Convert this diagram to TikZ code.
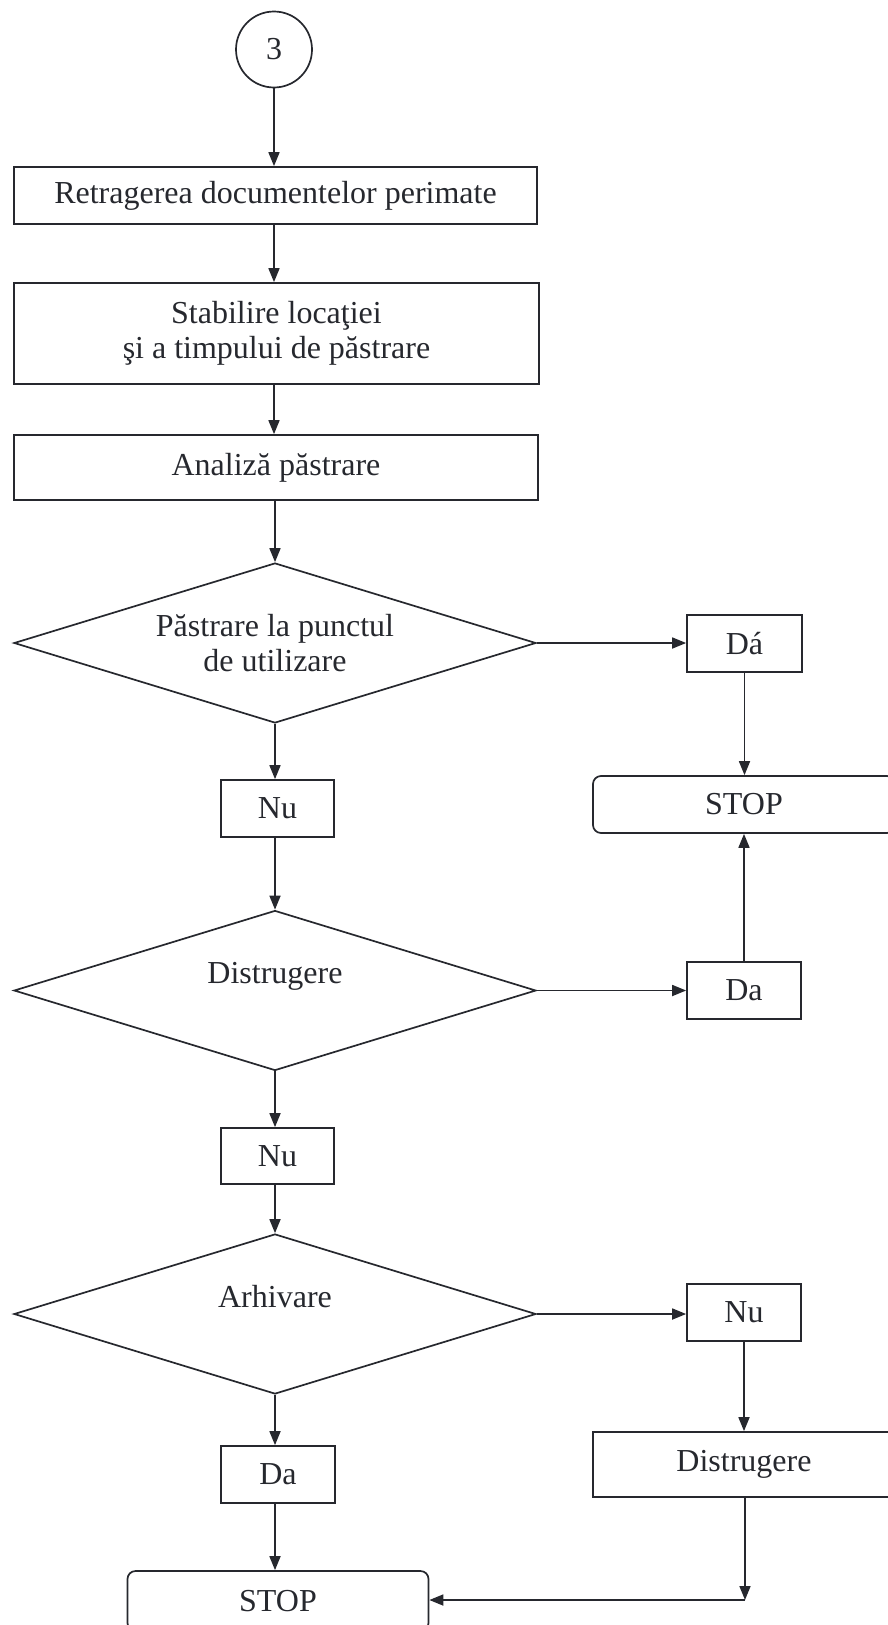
\documentclass[tikz,border=0pt]{standalone}
\usepackage{fontspec}
\setmainfont{Liberation Serif}
\usetikzlibrary{shapes.geometric,arrows.meta}
\definecolor{ink}{RGB}{38,40,46}
\begin{document}
\begin{tikzpicture}[x=1pt,y=-1pt,
  every node/.style={font=\fontsize{32}{35}\selectfont, text=ink},
  box/.style={draw=ink, line width=1.7pt, rectangle, inner sep=0pt, align=center},
  stopbox/.style={box, rounded corners=8pt},
  decision/.style={draw=ink, line width=1.7pt, diamond, aspect=3.26, inner sep=0pt,
     minimum width=522pt, minimum height=160pt, align=center},
  startc/.style={draw=ink, line width=1.7pt, circle, minimum size=76pt, inner sep=0pt},
  arr/.style={draw=ink, line width=1.7pt, -{Triangle[length=14pt,width=11pt]}}
]
\useasboundingbox (0,0) rectangle (887,1625);

% nodes
\node[startc] (c3) at (274,49.5) {3};
\node[box, minimum width=523pt, minimum height=57pt] (b1) at (275.5,195.5) {Retragerea documentelor perimate};
\node[box, minimum width=525pt, minimum height=101pt] (b2) at (276.5,333.5) {Stabilire locaţiei\\şi a timpului de păstrare};
\node[box, minimum width=524pt, minimum height=65pt] (b3) at (276,467.5) {Analiză păstrare};
\node[decision] (d1) at (275,643) {Păstrare la punctul\\de utilizare};
\node[box, minimum width=115pt, minimum height=57pt] (da1) at (744.5,643.5) {Dá};
\node[stopbox, minimum width=302pt, minimum height=57pt] (stop1) at (744,804.5) {STOP};
\node[box, minimum width=113pt, minimum height=57pt] (nu1) at (277.5,808.5) {Nu};
\node[decision] (d2) at (275,990.5) {Distrugere\\\mbox{}};
\node[box, minimum width=114pt, minimum height=57pt] (da2) at (744,990.5) {Da};
\node[box, minimum width=113pt, minimum height=56pt] (nu2) at (277.5,1156) {Nu};
\node[decision] (d3) at (275,1314) {Arhivare\\\mbox{}};
\node[box, minimum width=114pt, minimum height=57pt] (nu3) at (744,1312.5) {Nu};
\node[box, minimum width=302pt, minimum height=65pt] (dist) at (744,1464.5) {Distrugere};
\node[box, minimum width=114pt, minimum height=57pt] (da3) at (278,1474.5) {Da};
\node[stopbox, minimum width=301pt, minimum height=60pt] (stop2) at (278,1601) {STOP};
\coordinate (corner) at (745,1600);

% connectors
\draw[arr] (c3.south) -- (c3.south |- b1.north);
\draw[arr] (c3.south |- b1.south) -- (c3.south |- b2.north);
\draw[arr] (c3.south |- b2.south) -- (c3.south |- b3.north);
\draw[arr] (d1.north |- b3.south) -- (d1.north);
\draw[arr] (d1.east) -- (d1.east -| da1.west);
\draw[arr] (da1.south) -- (da1.south |- stop1.north);
\draw[arr] (d1.south) -- (d1.south |- nu1.north);
\draw[arr] (d1.south |- nu1.south) -- (d2.north);
\draw[arr] (d2.east) -- (d2.east -| da2.west);
\draw[arr] (da2.north) -- (da2.north |- stop1.south);
\draw[arr] (d2.south) -- (d2.south |- nu2.north);
\draw[arr] (d2.south |- nu2.south) -- (d3.north);
\draw[arr] (d3.east) -- (d3.east -| nu3.west);
\draw[arr] (nu3.south) -- (nu3.south |- dist.north);
\draw[arr] (d3.south) -- (d3.south |- da3.north);
\draw[arr] (d3.south |- da3.south) -- (d3.south |- stop2.north);
\draw[arr] (corner |- dist.south) -- (corner);
\draw[arr] (corner) -- (corner -| stop2.east);
\end{tikzpicture}
\end{document}
